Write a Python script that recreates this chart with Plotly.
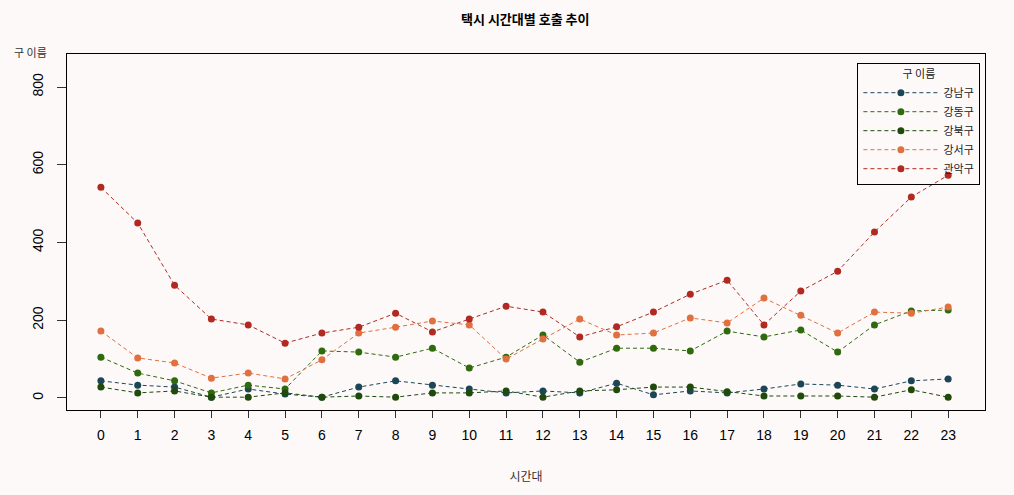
import plotly.graph_objects as go

hours = list(range(24))
districts = ["강남구", "강동구", "강북구", "강서구", "관악구"]
gangnam = [44, 33, 28, 2, 23, 10, 2, 28, 44, 33, 23, 13, 18, 13, 38, 8, 18, 13, 23, 36, 33, 23, 44, 49]
gangdong = [105, 64, 44, 13, 33, 23, 121, 118, 105, 128, 77, 105, 162, 92, 128, 128, 121, 172, 157, 175, 118, 188, 224, 226]
gangbuk = [28, 13, 18, 2, 2, 13, 2, 5, 2, 13, 13, 18, 2, 18, 21, 28, 28, 16, 5, 5, 5, 2, 21, 2]
gangseo = [172, 103, 90, 51, 64, 49, 98, 167, 182, 198, 188, 100, 152, 203, 162, 167, 206, 193, 257, 213, 167, 221, 218, 234]
gwanak = [542, 450, 290, 203, 188, 141, 167, 182, 218, 170, 203, 236, 221, 157, 183, 221, 267, 303, 188, 275, 326, 427, 517, 573]
series = [gangnam, gangdong, gangbuk, gangseo, gwanak]
colors = ["#1c4656", "#2f6a0c", "#1f4a0c", "#e0703f", "#b02a22"]
y_ticks = [0, 200, 400, 600, 800]

KR = "Noto Sans CJK KR"
fig = go.Figure()
for name, vals, c in zip(districts, series, colors):
    fig.add_trace(go.Scatter(
        x=hours, y=vals, name=name, mode="lines+markers",
        line=dict(color=c, width=1, dash="4px,3px"),
        marker=dict(color=c, size=7, symbol="circle"),
    ))

bg = "#fdf9f9"
fig.update_layout(
    width=1014, height=495,
    paper_bgcolor=bg, plot_bgcolor=bg,
    margin=dict(l=67, r=29, t=54, b=85),
    title=dict(text="<b>택시 시간대별 호출 추이</b>", x=0.518, xanchor="center",
               y=0.96, yanchor="middle", font=dict(family=KR, size=13, color="#000")),
    showlegend=True,
    legend=dict(x=0.861, y=0.975, xanchor="left", yanchor="top",
                bgcolor="rgba(0,0,0,0)", bordercolor="#000", borderwidth=1,
                font=dict(family=KR, size=11, color="#222"),
                title=dict(text="구 이름", side="top center", font=dict(family=KR, size=11, color="#222")),
                tracegroupgap=0, itemwidth=75),
    xaxis=dict(range=[-0.92, 24.0], tickmode="array", tickvals=hours,
               ticktext=[str(h) for h in hours],
               showgrid=False, zeroline=False, showline=True, mirror=True,
               linecolor="#000", linewidth=1, ticks="outside", ticklen=7,
               ticklabelstandoff=5,
               tickcolor="#333", tickfont=dict(family="Liberation Sans", size=14, color="#000"),
               title=dict(text="시간대", font=dict(family=KR, size=12, color="#333"), standoff=30)),
    yaxis=dict(range=[-31, 885], tickmode="array", tickvals=y_ticks,
               ticktext=[str(v) for v in y_ticks], tickangle=-90,
               showgrid=False, zeroline=False, showline=True, mirror=True,
               linecolor="#000", linewidth=1, ticks="outside", ticklen=9,
               ticklabelstandoff=8,
               tickcolor="#333", tickfont=dict(family="Liberation Sans", size=14, color="#000")),
    annotations=[dict(text="구 이름", xref="paper", yref="paper", x=-0.04, y=1.006,
                      xanchor="center", yanchor="middle", showarrow=False,
                      font=dict(family=KR, size=11, color="#333"))],
)
fig.write_html("out.html", config={"displayModeBar": False},
               post_script="document.body.style.margin='0';document.body.style.background='%s';" % bg)
